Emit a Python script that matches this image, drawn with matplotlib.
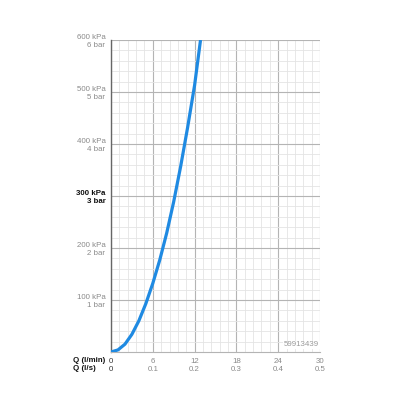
import numpy as np
import matplotlib.pyplot as plt
from matplotlib.ticker import MultipleLocator

# flow (l/min) vs pressure drop (kPa)
flow_lpm = [0, 1, 2, 3, 4, 5, 6, 7, 8, 9, 10, 11, 12, 12.85]
pressure_kpa = [0, 4, 15, 34, 60, 93, 132, 177, 229, 289, 357, 432, 513, 600]

x_ticks = [0, 6, 12, 18, 24, 30]
x_ls = ['0', '0.1', '0.2', '0.3', '0.4', '0.5']
y_ticks = [100, 200, 300, 400, 500, 600]
y_kpa = ['100 kPa', '200 kPa', '300 kPa', '400 kPa', '500 kPa', '600 kPa']
y_bar = ['1 bar', '2 bar', '3 bar', '4 bar', '5 bar', '6 bar']
code = '59913439'

plt.rcParams['font.family'] = ['Liberation Sans', 'DejaVu Sans']
fs = 5.7

fig = plt.figure(figsize=(4, 4), dpi=100)
ax = fig.add_axes([0.2775, 0.12, 0.5225, 0.78])

ax.plot(flow_lpm, pressure_kpa, color='#1f8ae2', lw=2.3,
        solid_capstyle='butt', clip_on=True, zorder=3)

ax.set_xlim(0, 30)
ax.set_ylim(0, 600)
ax.xaxis.set_major_locator(MultipleLocator(6))
ax.xaxis.set_minor_locator(MultipleLocator(1.2))
ax.yaxis.set_major_locator(MultipleLocator(100))
ax.yaxis.set_minor_locator(MultipleLocator(20))
ax.grid(which='major', color='#b4b4b4', lw=0.8)
ax.grid(which='minor', color='#e4e4e4', lw=0.6)
ax.set_axisbelow(True)

for s in ['top', 'right']:
    ax.spines[s].set_visible(False)
ax.spines['left'].set_color('#666666')
ax.spines['bottom'].set_color('#b4b4b4')
ax.spines['left'].set_linewidth(1.0)
ax.spines['bottom'].set_linewidth(0.8)

ax.tick_params(which='both', length=0)

# x labels: two rows (l/min and l/s)
ax.set_xticks(x_ticks)
ax.set_xticklabels(['{}\n{}'.format(a, b) for a, b in zip(x_ticks, x_ls)],
                   fontsize=fs, color='#8a8a8a', linespacing=1.2)
ax.tick_params(axis='x', pad=4)
ax.get_xticklabels()[0].set_color('#333333')

# y labels: kPa over bar
ax.set_yticks(y_ticks)
ax.set_yticklabels(['{}\n{}'.format(a, b) for a, b in zip(y_kpa, y_bar)],
                   fontsize=fs, color='#8a8a8a', linespacing=1.2,
                   multialignment='right')
ax.tick_params(axis='y', pad=4)
for lab, v in zip(ax.get_yticklabels(), y_ticks):
    if v == 300:
        lab.set_color('#111111')
        lab.set_fontweight('bold')

fig.text(0.182, 0.108, 'Q (l/min)\nQ (l/s)', ha='left', va='top',
         fontsize=fs, fontweight='bold', color='#111111',
         linespacing=1.2, multialignment='left')

ax.text(0.995, 0.012, code, transform=ax.transAxes, ha='right', va='bottom',
        fontsize=fs, color='#999999',
        bbox=dict(facecolor='white', edgecolor='none', pad=0.5))

fig.savefig('out.png', dpi=100)
